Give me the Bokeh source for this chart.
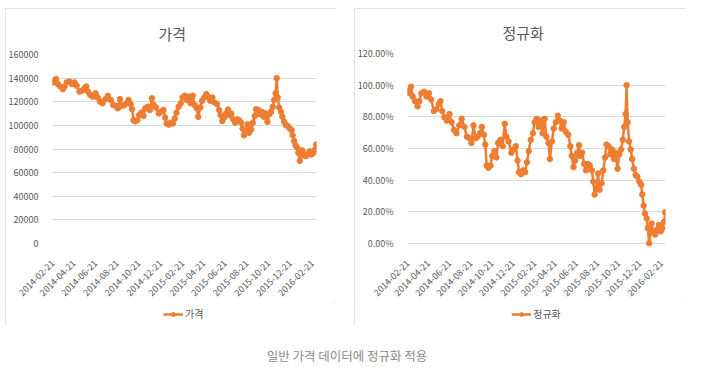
import pandas as pd
from bokeh.plotting import figure
from bokeh.models import (Range1d, FixedTicker, NumeralTickFormatter, DatetimeTickFormatter,
                          Legend, LegendItem, Div, Spacer)
from bokeh.layouts import row, column
from bokeh.embed import file_html
from bokeh.resources import INLINE

# ---------------- data ----------------
start_date = "2014-02-21"
day_offsets = [
    0, 5, 9, 14, 21, 28, 33, 39, 47, 54,
    61, 67, 75, 82, 89, 94, 99, 105, 112, 120,
    126, 133, 140, 148, 155, 163, 170, 178, 183, 189,
    195, 201, 208, 213, 219, 223, 227, 232, 238, 243,
    249, 255, 260, 267, 273, 279, 284, 290, 298, 304,
    311, 316, 320, 326, 332, 338, 343, 348, 354, 360,
    365, 371, 377, 383, 388, 394, 399, 405, 409, 415,
    420, 426, 432, 437, 443, 449, 455, 462, 468, 472,
    477, 482, 488, 493, 496, 502, 508, 513, 519, 524,
    530, 534, 538, 543, 548, 552, 558, 563, 568, 572,
    578, 583, 588, 594, 598, 604, 609, 614, 619, 623,
    627, 630, 633, 637, 642, 646, 651, 656, 661, 667,
    672, 675, 679, 683, 688, 691, 695, 699, 702, 707,
    712, 717, 723, 728, 733, 738, 741,
]
prices = [
    136400, 137900, 139300, 135000, 132900, 130700, 132900, 136400, 137100, 135000,
    136400, 133600, 128600, 129300, 131500, 132900, 128600, 125800, 124300, 127200,
    123600, 120100, 118700, 122200, 125100, 121500, 117200, 116500, 114400, 122200,
    116500, 117200, 118700, 121500, 118000, 113700, 104400, 103400, 104400, 108700,
    110800, 108000, 114400, 115800, 113000, 122900, 117200, 115100, 110100, 111500,
    113000, 106600, 101600, 100600, 102300, 101600, 105900, 110800, 115800, 118700,
    123600, 125100, 121500, 124300, 118700, 125100, 117200, 114400, 107300, 115100,
    120800, 123600, 126500, 124300, 120800, 123600, 119400, 118000, 113000, 108700,
    103700, 106600, 110100, 113400, 108700, 110100, 105100, 102300, 105100, 104400,
    102300, 97300, 91600, 94500, 100900, 93700, 96600, 102300, 108000, 113700,
    113000, 109400, 111500, 107300, 110100, 103000, 109400, 111500, 115800, 121500,
    127200, 140000, 123600, 115100, 111500, 107300, 103000, 100200, 99500, 97300,
    95900, 91600, 86700, 83100, 81000, 76700, 70000, 75300, 78800, 74600,
    73900, 76000, 78100, 75300, 76700, 79500, 83800,
]
tick_dates = ["2014-02-21", "2014-04-21", "2014-06-21", "2014-08-21", "2014-10-21",
              "2014-12-21", "2015-02-21", "2015-04-21", "2015-06-21", "2015-08-21",
              "2015-10-21", "2015-12-21", "2016-02-21"]
price_ticks = [0, 20000, 40000, 60000, 80000, 100000, 120000, 140000, 160000]
norm_ticks = [0, 0.2, 0.4, 0.6, 0.8, 1.0, 1.2]
title_price = "가격"
title_norm = "정규화"
caption = "일반 가격 데이터에 정규화 적용"

dates = pd.Timestamp(start_date) + pd.to_timedelta(day_offsets, unit="D")
pmin, pmax = min(prices), max(prices)
normalized = [(v - pmin) / (pmax - pmin) for v in prices]

ORANGE = "#ED7D31"
TXT = "#595959"
GRID = "#d9d9d9"
KR = "Noto Sans CJK KR"
W = 331
H_MAIN, H_LEG = 294, 24

tick_ms = [pd.Timestamp(d).value // 10**6 for d in tick_dates]
x_start = (dates[0] - pd.Timedelta(days=1)).value // 10**6
x_end = (dates[-1] + pd.Timedelta(days=1)).value // 10**6


def make_chart(title, y, yticks, yfmt, y_range, fl, ft, fb, label_standoff, title_offset):
    p = figure(width=W, height=H_MAIN, x_axis_type="datetime", output_backend="svg",
               toolbar_location=None, min_border_left=fl, min_border_right=20,
               min_border_top=ft, min_border_bottom=fb,
               x_range=Range1d(x_start, x_end), y_range=y_range)
    p.outline_line_color = None
    p.background_fill_color = "white"
    p.border_fill_color = "white"
    p.xgrid.visible = False
    p.ygrid.grid_line_color = GRID
    p.ygrid.grid_line_width = 1

    p.yaxis.ticker = FixedTicker(ticks=yticks)
    p.yaxis.formatter = yfmt
    p.xaxis.ticker = FixedTicker(ticks=tick_ms)
    p.xaxis.formatter = DatetimeTickFormatter(days="%Y-%m-%d", months="%Y-%m-%d",
                                              years="%Y-%m-%d", context=None)
    p.xaxis.major_label_orientation = 0.7854
    for ax in (p.xaxis, p.yaxis):
        ax.axis_line_color = None
        ax.major_tick_line_color = None
        ax.minor_tick_line_color = None
        ax.major_label_text_color = TXT
        ax.major_label_text_font = KR
        ax.major_label_text_font_size = "9px"
    p.yaxis.major_label_standoff = 8
    p.xaxis.major_label_standoff = label_standoff

    p.line(dates, y, line_color=ORANGE, line_width=2.5)
    p.scatter(dates, y, marker="circle", size=5.5, fill_color=ORANGE, line_color=ORANGE)

    p.title.text = title
    p.title.align = "left"
    p.title.offset = title_offset
    p.title.standoff = 21
    p.title.text_font = KR
    p.title.text_font_size = "15px"
    p.title.text_color = TXT
    p.title.text_font_style = "normal"

    # legend strip (its own small figure, so the legend is not clipped)
    lf = figure(width=W, height=H_LEG, output_backend="svg", toolbar_location=None,
                min_border=0, x_axis_location=None, y_axis_location=None,
                x_range=Range1d(0, 1), y_range=Range1d(0, 1))
    lf.grid.visible = False
    lf.outline_line_color = None
    lf.border_fill_color = "white"
    lf.background_fill_color = "white"
    ln = lf.line([-5, -4], [-5, -4], line_color=ORANGE, line_width=2.5)
    sc = lf.scatter([-5], [-5], marker="circle", size=5.5, fill_color=ORANGE,
                    line_color=ORANGE)
    leg = Legend(items=[LegendItem(label=title, renderers=[ln, sc])],
                 location="top_center", orientation="horizontal",
                 background_fill_alpha=0, border_line_color=None, padding=0, margin=4,
                 glyph_width=20, glyph_height=10, label_height=12, label_standoff=2,
                 label_text_font=KR, label_text_font_size="10px", label_text_color=TXT)
    lf.add_layout(leg)
    return column(p, lf, spacing=0,
                  styles={"outline": "1px solid #d9d9d9", "outline-offset": "-1px"})


c1 = make_chart(title_price, prices, price_ticks, NumeralTickFormatter(format="0"),
                Range1d(0, 160000), 44, 46, H_MAIN - 243, 12, 106)
c2 = make_chart(title_norm, normalized, norm_ticks, NumeralTickFormatter(format="0.00%"),
                Range1d(-0.02, 1.2), 49, 45, H_MAIN - 246, 9, 95)

cap = Div(text=caption, width=674,
          styles={"text-align": "center", "color": "#8c8c8c", "font-size": "12.5px",
                  "font-family": "'Noto Sans CJK KR'"})

body = column(Spacer(height=8), row(c1, c2, spacing=18), Spacer(height=16), cap, spacing=0)
layout = row(Spacer(width=5), body, spacing=0)
open("out.html", "w").write(file_html(layout, INLINE))
